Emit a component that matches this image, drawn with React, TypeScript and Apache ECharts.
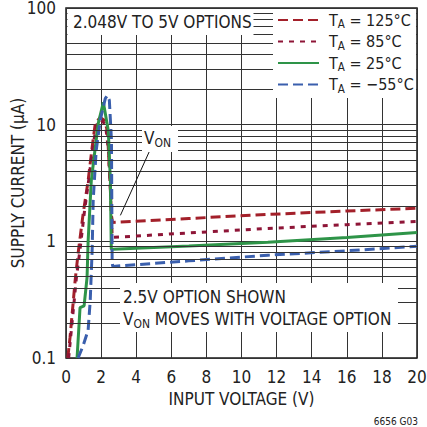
import React, { useEffect, useRef } from "react";
import * as echarts from "echarts";

const FONT = "'DejaVu Sans Condensed', 'Liberation Sans Narrow', 'Roboto', sans-serif";
const INK = "#222";
const FS = 17;

// X ticks every 2 V, 0..20
const xTicks = [0, 2, 4, 6, 8, 10, 12, 14, 16, 18, 20];
// log minor grid values
const minorGrid = [0.2, 0.3, 0.4, 0.5, 0.6, 0.7, 0.8, 0.9, 2, 3, 4, 5, 6, 7, 8, 9, 20, 30, 40, 50, 60, 70, 80, 90];

const seriesNames = ["125", "85", "25", "\u221255"];

// TA = 125°C
const t125V = [0.1, 0.23, 0.52, 0.69, 0.98, 1.26, 1.49, 1.67, 1.95, 2.18, 2.36, 2.53, 2.59, 2.64, 7, 11.5, 16, 20];
const t125I = [0.1, 0.15, 0.46, 0.79, 1.74, 3.3, 6.4, 10.3, 11.5, 10.9, 8.9, 2.7, 1.67, 1.45, 1.57, 1.7, 1.82, 1.92];
// TA = 85°C
const t85V = [0.15, 0.3, 0.6, 0.8, 1.05, 1.3, 1.55, 1.75, 2.0, 2.25, 2.42, 2.58, 2.63, 7, 11.5, 16, 20];
const t85I = [0.1, 0.17, 0.5, 0.85, 1.8, 3.4, 6.8, 10, 11, 10, 6, 2, 1.08, 1.18, 1.29, 1.39, 1.48];
// TA = 25°C
const t25V = [0.63, 0.8, 1.03, 1.2, 1.26, 1.44, 1.67, 1.84, 2.13, 2.41, 2.53, 2.58, 2.65, 7, 11.5, 16, 20];
const t25I = [0.1, 0.27, 0.28, 0.49, 1.0, 3.3, 6.4, 10.3, 15.5, 8.9, 3.3, 0.86, 0.854, 0.91, 0.98, 1.08, 1.19];
// TA = -55°C
const tm55V = [0.69, 0.98, 1.26, 1.38, 1.49, 1.55, 1.72, 1.95, 2.24, 2.36, 2.47, 2.59, 2.61, 2.63, 2.66, 7, 11.5, 16, 20];
const tm55I = [0.1, 0.128, 0.173, 0.31, 0.84, 2.25, 6.0, 10.9, 16.8, 17.8, 16.2, 7.4, 2.25, 0.66, 0.61, 0.68, 0.76, 0.83, 0.906];

// V_ON arrow (data coords)
const arrowFrom = [4.83, 6.27];
const arrowTo = [3.1, 1.67];

const zip = (xs: number[], ys: number[]) => xs.map((x, i) => [x, ys[i]]);

export default function App() {
  const ref = useRef<HTMLDivElement>(null);
  useEffect(() => {
    if (!ref.current) return;
    const chart = echarts.init(ref.current, undefined, { renderer: "svg" });
    const richSub = {
      a: { fontSize: FS, lineHeight: 22, fontFamily: FONT, color: INK },
      b: { fontSize: 12, lineHeight: 22, verticalAlign: "bottom", fontFamily: FONT, color: INK },
      sp: { width: 6 },
    };
    const richLeg = {
      a: { fontSize: 16, lineHeight: 20, fontFamily: FONT, color: INK },
      b: { fontSize: 11.5, lineHeight: 20, verticalAlign: "bottom", fontFamily: FONT, color: INK },
      sp: { width: 5 },
    };
    const mkLine = (name: string, xs: number[], ys: number[], color: string, type: any) => ({
      name,
      type: "line",
      data: zip(xs, ys),
      symbol: "none",
      smooth: false,
      z: 3,
      lineStyle: { color, width: 3, type },
      itemStyle: { color },
    });
    chart.setOption({
      animation: false,
      textStyle: { fontFamily: FONT },
      grid: {
        left: 66, right: 10, top: 8, bottom: 69, show: true,
        borderColor: "#1a1a1a", borderWidth: 1.5,
        containLabel: false, outerBoundsMode: "none",
      },
      xAxis: {
        type: "value",
        min: xTicks[0],
        max: xTicks[xTicks.length - 1],
        interval: 2,
        axisLine: { show: false },
        axisTick: { show: false },
        splitLine: { show: true, lineStyle: { color: "#333", width: 1 } },
        axisLabel: { fontSize: FS, color: INK, margin: 10, fontFamily: FONT },
        name: "INPUT VOLTAGE (V)",
        nameLocation: "middle",
        nameGap: 32,
        nameMoveOverlap: false,
        nameTextStyle: { fontSize: FS, color: INK, fontFamily: FONT },
      },
      yAxis: {
        type: "log",
        logBase: 10,
        min: 0.1,
        max: 100,
        axisLine: { show: false },
        axisTick: { show: false },
        splitLine: { show: true, lineStyle: { color: "#333", width: 1 } },
        axisLabel: { fontSize: FS, color: INK, margin: 10, fontFamily: FONT },
        name: "SUPPLY CURRENT (\u00B5A)",
        nameLocation: "middle",
        nameGap: 40,
        nameMoveOverlap: false,
        nameRotate: 90,
        nameTextStyle: { fontSize: FS, color: INK, fontFamily: FONT },
      },
      legend: {
        data: seriesNames,
        orient: "vertical",
        left: 273,
        top: 12,
        z: 20,
        padding: [0, 4, 0, 4],
        itemGap: 3.5,
        itemWidth: 41,
        itemHeight: 14,
        itemStyle: { opacity: 0 },
        formatter: (n: string) => `{sp| }{a|T}{b|A}{a| = ${n}\u00B0C}`,
        textStyle: { rich: richLeg },
      },
      series: [
        {
          name: "grid",
          type: "line",
          data: [],
          silent: true,
          z: 1,
          markLine: {
            silent: true,
            symbol: ["none", "none"],
            label: { show: false },
            lineStyle: { color: "#333", width: 1, type: "solid" },
            data: minorGrid.map((v) => ({ yAxis: v })),
          },
        },
        mkLine(seriesNames[0], t125V, t125I, "#a3202a", [10, 5]),
        mkLine(seriesNames[1], t85V, t85I, "#8e1537", [5, 6]),
        mkLine(seriesNames[2], t25V, t25I, "#2e9448", "solid"),
        mkLine(seriesNames[3], tm55V, tm55I, "#3a5fad", [10, 5]),
        {
          name: "arrow",
          type: "line",
          data: [],
          silent: true,
          z: 6,
          markLine: {
            silent: true,
            symbol: ["none", "arrow"],
            symbolSize: [0, 8],
            label: { show: false },
            lineStyle: { color: "#111", width: 1, type: "solid" },
            data: [[{ coord: arrowFrom }, { coord: arrowTo }]],
          },
        },
      ],
      graphic: [
        { type: "rect", z: 10, shape: { x: 67.5, y: 9, width: 186, height: 26 }, style: { fill: "#fff" } },
        { type: "rect", z: 10, shape: { x: 273, y: 9, width: 143, height: 89 }, style: { fill: "#fff" } },
        {
          type: "text", z: 11, x: 73, y: 21.5,
          style: { text: "2.048V TO 5V OPTIONS", fontSize: FS, fontFamily: FONT, fill: INK, verticalAlign: "middle" },
        },
        { type: "rect", z: 10, shape: { x: 142, y: 126, width: 36, height: 26 }, style: { fill: "#fff" } },
        {
          type: "text", z: 11, x: 144, y: 127,
          style: { text: "{a|V}{b|ON}", rich: richSub, fill: INK },
        },
        { type: "rect", z: 10, shape: { x: 120, y: 283, width: 278, height: 49 }, style: { fill: "#fff" } },
        {
          type: "text", z: 11, x: 123, y: 297,
          style: { text: "2.5V OPTION SHOWN", fontSize: FS, fontFamily: FONT, fill: INK, verticalAlign: "middle" },
        },
        {
          type: "text", z: 11, x: 123, y: 308,
          style: { text: "{a|V}{b|ON}{a| MOVES WITH VOLTAGE OPTION}", rich: richSub, fill: INK },
        },
        {
          type: "text", z: 11, x: 418, y: 421,
          style: { text: "6656 G03", fontSize: 10, fontFamily: FONT, fill: INK, align: "right", verticalAlign: "middle" },
        },
      ],
    });
    return () => chart.dispose();
  }, []);
  return <div ref={ref} style={{ width: 427, height: 427, position: "absolute", left: 0, top: 0 }} />;
}
